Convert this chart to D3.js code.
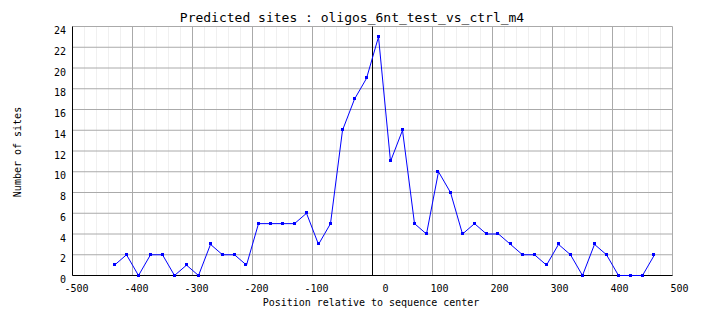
<!DOCTYPE html>
<html><head><meta charset="utf-8">
<script src="https://cdn.jsdelivr.net/npm/d3@7"></script>
<style>body{margin:0;background:#fff}svg{display:block}</style>
</head><body>
<svg id="c" width="704" height="328"></svg>
<script>
const positions = [-430,-410,-390,-370,-350,-330,-310,-290,-270,-250,-230,-210,-190,-170,-150,-130,-110,-90,-70,-50,-30,-10,10,30,50,70,90,110,130,150,170,190,210,230,250,270,290,310,330,350,370,390,410,430,450,470];
const sites = [1,2,0,2,2,0,1,0,3,2,2,1,5,5,5,5,6,3,5,14,17,19,23,11,14,5,4,10,8,4,5,4,4,3,2,2,1,3,2,0,3,2,0,0,0,2];
const xTicks = [-500,-400,-300,-200,-100,0,100,200,300,400,500];
const yTicks = [0,2,4,6,8,10,12,14,16,18,20,22,24];
const title = "Predicted sites : oligos_6nt_test_vs_ctrl_m4";
const xTitle = "Position relative to sequence center";
const yTitle = "Number of sites";

const svg = d3.select("#c");
const font = "'DejaVu Sans Mono', monospace";
const x = d3.scaleLinear().domain([-500,500]).range([72.5,672.5]);
const y = d3.scaleLinear().domain([0,24]).range([275.5,26.5]);

// minor vertical grid
const minor = d3.range(-500,501,20).filter(v => v % 100 !== 0);
svg.append("g").selectAll("line").data(minor).join("line")
  .attr("x1", d => x(d)).attr("x2", d => x(d)).attr("y1", y(24)).attr("y2", y(0))
  .attr("stroke", "#f0f0f0").attr("stroke-width", 1);
// major grid
svg.append("g").selectAll("line").data(xTicks).join("line")
  .attr("x1", d => x(d)).attr("x2", d => x(d)).attr("y1", y(24)).attr("y2", y(0))
  .attr("stroke", "#aaaaaa").attr("stroke-width", 1);
svg.append("g").selectAll("line").data(yTicks).join("line")
  .attr("x1", x(-500)).attr("x2", x(500)).attr("y1", d => y(d)).attr("y2", d => y(d))
  .attr("stroke", "#aaaaaa").attr("stroke-width", 1);

// axes
svg.append("line").attr("x1", x(-500)).attr("x2", x(-500)).attr("y1", y(24)).attr("y2", y(0)).attr("stroke", "#000");
svg.append("line").attr("x1", x(-500)).attr("x2", x(500)).attr("y1", y(0)).attr("y2", y(0)).attr("stroke", "#000");
// center line
svg.append("line").attr("x1", x(0)).attr("x2", x(0)).attr("y1", y(24)).attr("y2", y(0)).attr("stroke", "#000");

// tick labels
svg.append("g").selectAll("text").data(xTicks).join("text")
  .attr("x", d => x(d) + 16).attr("y", 292)
  .attr("text-anchor", "end").attr("font-family", font).attr("font-size", 10)
  .text(d => String(d));
svg.append("g").selectAll("text").data(yTicks).join("text")
  .attr("x", 66).attr("y", d => y(d) + 7.5)
  .attr("text-anchor", "end").attr("font-family", font).attr("font-size", 10)
  .text(d => d);

// line + points
const line = d3.line().x((d,i) => x(positions[i])).y(d => y(d));
svg.append("path").datum(sites).attr("d", line).attr("fill", "none").attr("stroke", "#0000ff").attr("stroke-width", 1);
svg.append("g").selectAll("rect").data(sites).join("rect")
  .attr("x", (d,i) => Math.round(x(positions[i])) - 2).attr("y", d => Math.round(y(d)) - 2)
  .attr("width", 3).attr("height", 3).attr("fill", "#0000ff");

// titles
svg.append("text").attr("x", 352).attr("y", 22).attr("text-anchor", "middle")
  .attr("font-family", font).attr("font-size", 13).text(title);
svg.append("text").attr("x", 371).attr("y", 306).attr("text-anchor", "middle")
  .attr("font-family", font).attr("font-size", 10).text(xTitle);
svg.append("text").attr("transform", "translate(21,152) rotate(-90)").attr("text-anchor", "middle")
  .attr("font-family", font).attr("font-size", 10).text(yTitle);
</script>
</body></html>
